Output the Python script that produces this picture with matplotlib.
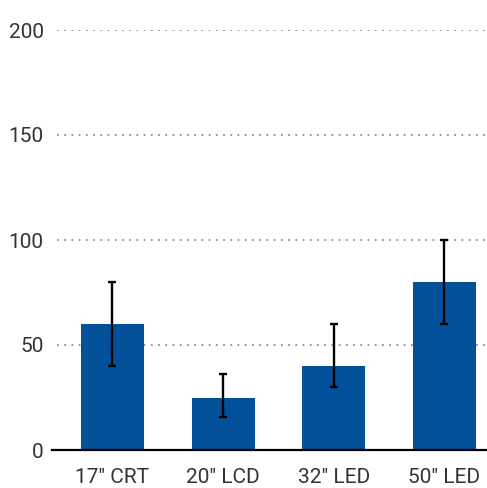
import numpy as np
import matplotlib.pyplot as plt
from matplotlib import font_manager

# data
categories = ['17" CRT', '20" LCD', '32" LED', '50" LED']
values = [60, 25, 40, 80]
err_low = [20, 9.5, 10, 20]
err_high = [20, 11, 20, 20]
yticks = [0, 50, 100, 150, 200]

names = {f.name for f in font_manager.fontManager.ttflist}
fam = 'Liberation Sans Narrow' if 'Liberation Sans Narrow' in names else 'Roboto'
plt.rcParams['font.family'] = [fam, 'DejaVu Sans']

fig = plt.figure(figsize=(4.87, 4.88), dpi=100)
ax = fig.add_axes([52/487, 38/488, 435/487, 420/488])

x = np.arange(len(categories))
ax.bar(x, values, width=0.57, color='#03519b', zorder=2)
ax.errorbar(x, values, yerr=[err_low, err_high], fmt='none', ecolor='black',
            elinewidth=1.7, capsize=3, capthick=1.7, zorder=3)

ax.set_xlim(-0.547, 3.386)
ax.set_ylim(0, 200)
ax.set_yticks(yticks)
ax.set_xticks(x)
ax.set_xticklabels(categories)

for v in yticks[1:]:
    ax.axhline(v, xmin=5/435, xmax=1, color='#8c8c8c', lw=1.3,
               linestyle=(0, (1.0, 3.0)), zorder=1)

for s in ['top', 'right', 'left']:
    ax.spines[s].set_visible(False)
ax.spines['bottom'].set_linewidth(1.6)
ax.spines['bottom'].set_color('black')
ax.spines['bottom'].set_zorder(4)

ax.tick_params(axis='both', length=0, labelsize=15, colors='#333333')
ax.tick_params(axis='y', pad=6)
ax.tick_params(axis='x', pad=13)

fig.savefig('out.png', dpi=100)
